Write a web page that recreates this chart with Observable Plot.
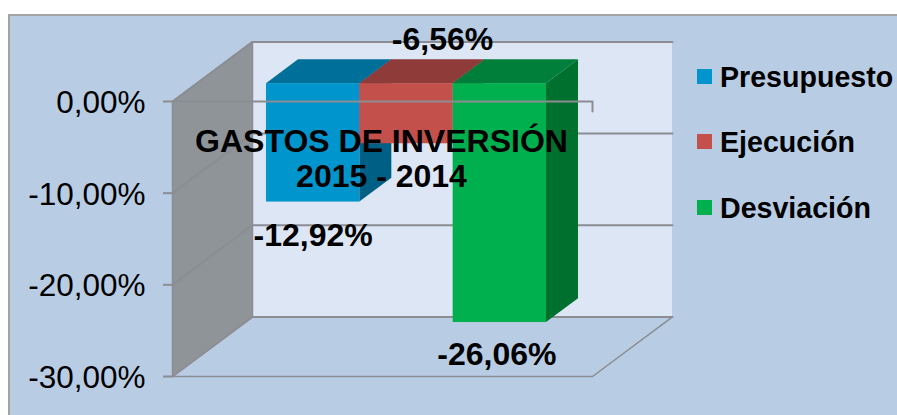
<!DOCTYPE html>
<html><head><meta charset="utf-8">
<script src="https://cdn.jsdelivr.net/npm/d3@7"></script>
<script src="https://cdn.jsdelivr.net/npm/@observablehq/plot@0.6"></script>
<style>
html,body{margin:0;padding:0;background:#fff;width:897px;height:415px;overflow:hidden}
#chart{position:relative;width:897px;height:415px;font-family:"Liberation Sans",Arial,sans-serif}
#bg{position:absolute;left:8px;top:14px;right:-4px;bottom:-4px;background:#b8cce4;border:2px solid #a3a3a3;box-sizing:border-box}
#plot{position:absolute;left:0;top:0}
#legend{position:absolute;left:697px;top:0;font-weight:bold;font-size:28.6px;color:#000}
#legend div{position:absolute;left:0;white-space:nowrap;height:32px;line-height:32px}
#legend i{position:absolute;left:0;top:8px;width:15px;height:15px}
#legend span{position:absolute;left:23px;top:0}
</style></head><body>
<div id="chart"><div id="bg"></div><div id="plot"></div><div id="legend"></div></div>
<script>
const categories = ["Presupuesto", "Ejecución", "Desviación"];
const values = [-12.92, -6.56, -26.06];
const labels = ["-12,92%", "-6,56%", "-26,06%"];
const front = ["#0095cd", "#c4504c", "#00b04f"];
const topFace = ["#006f9a", "#8f3b3a", "#007f3b"];
const sideFace = ["#005f85", "#7d3331", "#00702f"];
const yTicks = [0, -10, -20, -30];
const title = ["GASTOS DE INVERSIÓN", "2015 - 2014"];

// Oblique projection: a depth d (0 front, 1 back) shifts x and y in data units
const DX = 0.857, DY = 6.5, GAP = 0.75;
const px = (x, d) => x + d * DX;
const py = (v, d) => v + d * DY;

// Quadrilateral built as an area between two edges
function quad(x0, x1, a0, a1, b0, b1, fill) {
  return Plot.areaY([{x: x0, y1: a0, y2: a1}, {x: x1, y1: b0, y2: b1}],
    {x: "x", y1: "y1", y2: "y2", fill, curve: "linear"});
}
const GRID = "#8b8d92";
const marks = [];
const xMax = 4.5;
// back wall
marks.push(Plot.rect([0], {x1: px(0, 1), x2: px(xMax, 1), y1: py(-30, 1), y2: py(0, 1), fill: "#dce6f4"}));
// left wall
marks.push(quad(0, DX, 0, -30, py(0, 1), py(-30, 1), "#8f9499"));
// grid lines
for (const t of yTicks) {
  marks.push(Plot.line([[px(0,0), py(t,0)], [px(0,1), py(t,1)], [px(xMax,1), py(t,1)]], {stroke: GRID, strokeWidth: 2}));
}
marks.push(Plot.line([[px(0,1), py(0,1)], [px(0,1), py(-30,1)]], {stroke: GRID, strokeWidth: 1.5}));
marks.push(Plot.line([[px(0,0), py(0,0)], [px(0,0), py(-30,0)], [px(xMax,0), py(-30,0)], [px(xMax,1), py(-30,1)]], {stroke: GRID, strokeWidth: 1.5}));
// bars
categories.forEach((c, i) => {
  const x0 = GAP + i, x1 = x0 + 1, v = values[i], dA = 0.3, dB = 0.7;
  marks.push(quad(px(x1, dA), px(x1, dB), py(0, dA), py(v, dA), py(0, dB), py(v, dB), sideFace[i]));
  marks.push(Plot.areaY([
    {x: px(x0, dA), y1: py(0, dA), y2: py(0, dA)},
    {x: px(x0, dB), y1: py(0, dA), y2: py(0, dB)},
    {x: px(x1, dA), y1: py(0, dA), y2: py(0, dB)},
    {x: px(x1, dB), y1: py(0, dB), y2: py(0, dB)}
  ], {x: "x", y1: "y1", y2: "y2", fill: topFace[i]}));
  marks.push(Plot.rect([v], {x1: px(x0, dA), x2: px(x1, dA), y1: py(0, dA), y2: d => py(d, dA), fill: front[i]}));
});
// zero line with its end tick
marks.push(Plot.line([[0, 0], [xMax, 0], [xMax, -1.1]], {stroke: GRID, strokeWidth: 2}));
// value axis: ticks and labels apart, as the labels sit a little below their ticks
marks.push(Plot.axisY({ticks: yTicks, tickSize: 9, text: null, stroke: GRID, strokeWidth: 2, label: null}));
marks.push(Plot.axisY({ticks: yTicks, tickSize: 0, tickPadding: 27, dy: 1.5,
  tickFormat: d => d3.format(".2f")(d).replace("−","-").replace(".", ",") + "%",
  fontSize: 31.5, fill: "#000", label: null, fontWeight: "normal"}));
// data labels
const lab = [[0, 0, 34], [1, 36, -104], [2, -3, 32]];
lab.forEach(([i, dx, dy]) => marks.push(Plot.text([labels[i]], {
  x: px(GAP + i + 0.5, 0.3), y: py(values[i], 0.3), text: d => d, dx, dy,
  fontSize: 32, fontWeight: "bold", fill: "#000"})));
// title
title.forEach((t, i) => marks.push(Plot.text([t], {x: px(GAP + 1.5, 0.3), y: py(0, 0.3), text: d => d,
  dx: -25, dy: 58 + i * 35, fontSize: 32, fontWeight: "bold", fill: "#000"})));

const svg = Plot.plot({
  width: 897, height: 415,
  marginLeft: 172, marginRight: 305, marginTop: 101, marginBottom: 39,
  style: {background: "transparent", fontFamily: '"Liberation Sans",Arial,sans-serif', overflow: "visible"},
  x: {domain: [0, xMax], axis: null},
  y: {domain: [-30, 0], axis: null},
  marks
});
document.getElementById("plot").append(svg);

const legendTops = [61, 126, 192];
categories.forEach((c, i) => {
  const row = document.createElement("div");
  row.style.top = legendTops[i] + "px";
  row.innerHTML = `<i style="background:${front[i]}"></i><span>${c}</span>`;
  document.getElementById("legend").append(row);
});
</script></body></html>
